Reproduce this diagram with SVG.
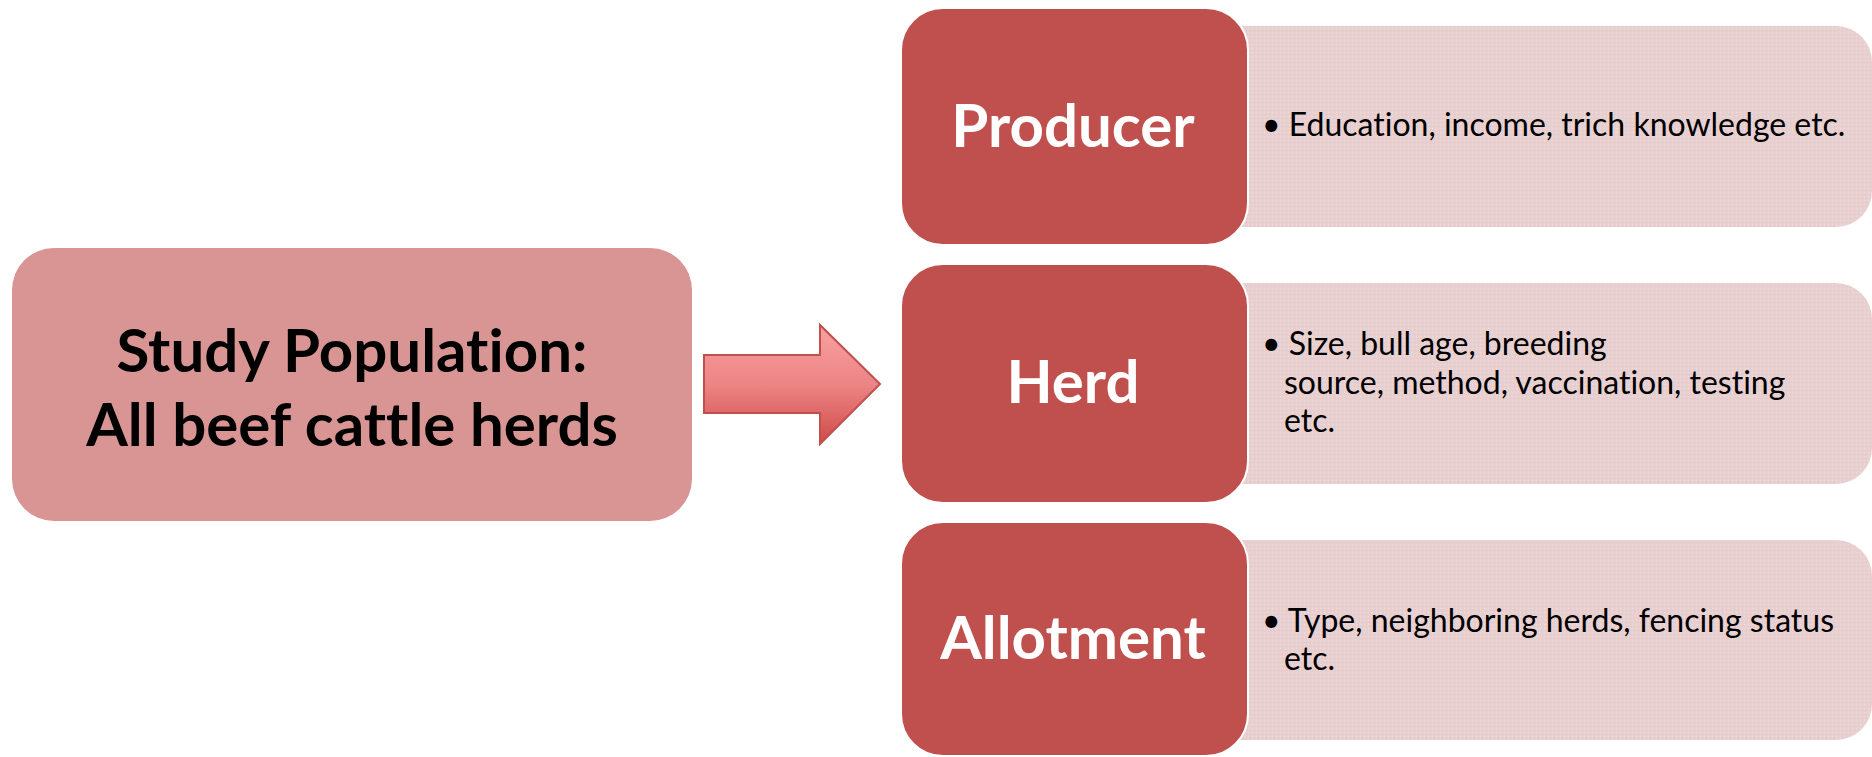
<svg xmlns="http://www.w3.org/2000/svg" width="1872" height="757" viewBox="0 0 1872 757">
<defs>
<linearGradient id="arrowGrad" x1="0" y1="0" x2="0" y2="1">
<stop offset="0" stop-color="#f9a0a0"/>
<stop offset="0.5" stop-color="#ec8585"/>
<stop offset="1" stop-color="#d04a48"/>
</linearGradient>
<pattern id="dots" width="4" height="4" patternUnits="userSpaceOnUse">
<rect width="4" height="4" fill="#e8d0d1"/>
<rect x="0" y="0" width="1" height="1" fill="#eedcdd"/>
<rect x="2" y="2" width="1" height="1" fill="#e2c6c7"/>
</pattern>
<style>
text{font-variant-ligatures:none;font-feature-settings:"liga" 0,"dlig" 0;}
.study{fill:#d99594;}
.dark{fill:#c0504d;stroke:#ffffff;stroke-width:2;}
.detail{fill:url(#dots);}
.title{font-family:Lato,"Liberation Sans",sans-serif;font-weight:bold;fill:#ffffff;font-size:60px;text-anchor:middle;}
.big{font-family:Lato,"Liberation Sans",sans-serif;font-weight:bold;fill:#000000;font-size:60px;text-anchor:middle;}
.txt{font-family:Lato,"Liberation Sans",sans-serif;fill:#000000;font-size:32px;}
</style>
</defs>
<rect width="1872" height="757" fill="#ffffff"/>
<g id="study-population">
<rect class="study" x="12" y="248" width="680" height="273" rx="42" ry="42"/>
<text class="big" x="352" y="372">Study Population:</text>
<text class="big" x="352" y="446">All beef cattle herds</text>
</g>
<g id="connectors">
<path d="M704,355 L820,355 L820,325 L880,384 L820,444 L820,413 L704,413 Z" fill="url(#arrowGrad)" stroke="#c0504d" stroke-width="2"/>
</g>
<g id="producer-detail">
<path class="detail" d="M1230,26 H1836 A36,36 0 0 1 1872,62 V191 A36,36 0 0 1 1836,227 H1230 Z"/>
<text class="txt" x="1262" y="136">• Education, income, trich knowledge etc.</text>
</g>
<g id="producer">
<rect class="dark" x="901" y="8" width="347" height="237" rx="42" ry="42"/>
<text class="title" x="1073" y="147">Producer</text>
</g>
<g id="herd-detail">
<path class="detail" d="M1230,283 H1836 A36,36 0 0 1 1872,319 V448 A36,36 0 0 1 1836,484 H1230 Z"/>
<text class="txt" x="1262" y="355">• Size, bull age, breeding</text>
<text class="txt" x="1284" y="394">source, method, vaccination, testing</text>
<text class="txt" x="1284" y="432">etc.</text>
</g>
<g id="herd">
<rect class="dark" x="901" y="264" width="347" height="239" rx="42" ry="42"/>
<text class="title" x="1073" y="403">Herd</text>
</g>
<g id="allotment-detail">
<path class="detail" d="M1230,540 H1836 A36,36 0 0 1 1872,576 V704 A36,36 0 0 1 1836,740 H1230 Z"/>
<text class="txt" x="1262" y="632">• Type, neighboring herds, fencing status</text>
<text class="txt" x="1284" y="670">etc.</text>
</g>
<g id="allotment">
<rect class="dark" x="901" y="522" width="347" height="234" rx="42" ry="42"/>
<text class="title" x="1073" y="659">Allotment</text>
</g>
</svg>
